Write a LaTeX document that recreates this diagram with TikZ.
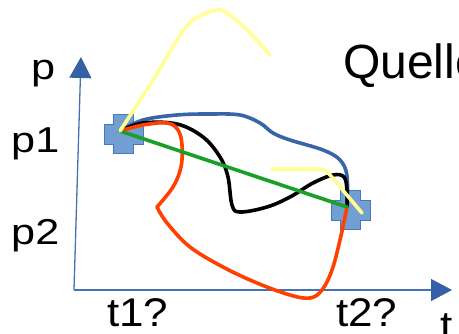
\documentclass[tikz,border=0pt]{standalone}
\usepackage{fontspec}
\setmainfont{Liberation Sans}
\usetikzlibrary{arrows.meta}

\definecolor{axisblue}{RGB}{68,114,180}
\definecolor{tipblue}{RGB}{52,96,166}
\definecolor{crossfill}{RGB}{114,159,210}
\definecolor{crossline}{RGB}{72,120,186}
\definecolor{pathblue}{RGB}{56,100,168}
\definecolor{pathred}{RGB}{255,64,0}
\definecolor{pathgreen}{RGB}{26,160,40}
\definecolor{pathyellow}{RGB}{255,255,150}

\begin{document}
\begin{tikzpicture}[
  x=1pt, y=-1pt,
  every node/.style={inner sep=0pt},
  lbl/.style={anchor=base west, xscale=1.2, font=\fontsize{36}{40}\selectfont},
  tlbl/.style={anchor=base west, xscale=1.1, font=\fontsize{40}{44}\selectfont},
  axis/.style={draw=axisblue, line width=1.3pt,
    -{Triangle[length=21pt, width=22pt, color=tipblue]}},
  route/.style={line width=3.6pt, line cap=round, line join=round},
  plusmark/.pic={
    \filldraw[fill=crossfill, draw=crossline, line width=1pt]
      (-10,-19.5) -- (10,-19.5) -- (10,-10) -- (19.5,-10) -- (19.5,10)
      -- (10,10) -- (10,19.5) -- (-10,19.5) -- (-10,10) -- (-19.5,10)
      -- (-19.5,-10) -- (-10,-10) -- cycle;}]

  \useasboundingbox (0,0) rectangle (459,334);

  % axes
  \coordinate (o)    at (74,290);
  \coordinate (ytip) at (81,57);
  \coordinate (xtip) at (452,290);
  \draw[axis] (o) -- (ytip);
  \draw[axis] (o) -- (xtip);

  % start and end point with their marks
  \coordinate (s) at (120,131);
  \coordinate (e) at (347,207);
  \pic at (123.5,134.5) {plusmark};
  \pic at (350.5,210.5) {plusmark};

  % candidate paths
  \draw[route, pathblue] plot[smooth, tension=0.6] coordinates {(s) (143,120)
    (177,115) (210,114) (240,115) (260,123) (273,133) (290,140) (323,150)
    (340,160) (347,176) (e)};
  \draw[route, black] plot[smooth, tension=0.6] coordinates {(s) (143,123)
    (177,124) (203,137) (220,157) (228,177) (232,205) (240,212) (267,207)
    (290,197) (313,183) (333,175) (344,177) (347,190) (e)};
  \draw[route, pathred] plot[smooth, tension=0.6] coordinates {(s) (143,125)
    (167,123) (178,130) (182,145) (181,167) (173,187) (157,207)};
  \draw[route, pathred] plot[smooth, tension=0.6] coordinates {(157,207)
    (167,223) (190,247) (223,267) (257,283) (290,295) (310,298) (322,290)
    (332,270) (340,240) (e)};
  \draw[route, pathgreen] (s) -- (e);
  \draw[route, pathyellow] plot[smooth, tension=0.6] coordinates {(s) (153,80)
    (177,40) (193,20) (217,10) (230,15) (250,33) (270,55)};
  \draw[route, pathyellow, rounded corners=6pt] (272,169) -- (325,169)
    -- (362,213);

  % labels
  \node[lbl] (lp)  at (31,80)   {p};
  \node[lbl] (lp1) at (11,153)  {p1};
  \node[lbl] (lp2) at (11,245)  {p2};
  \node[tlbl] (lt1) at (107,327) {t1?};
  \node[tlbl] (lt2) at (336,327) {t2?};
  \node[tlbl] (lt)  at (440,340) {t};
  \node[anchor=base west, font=\fontsize{48}{54}\selectfont]
    (src) at (343,79) {Quelle};
\end{tikzpicture}
\end{document}
